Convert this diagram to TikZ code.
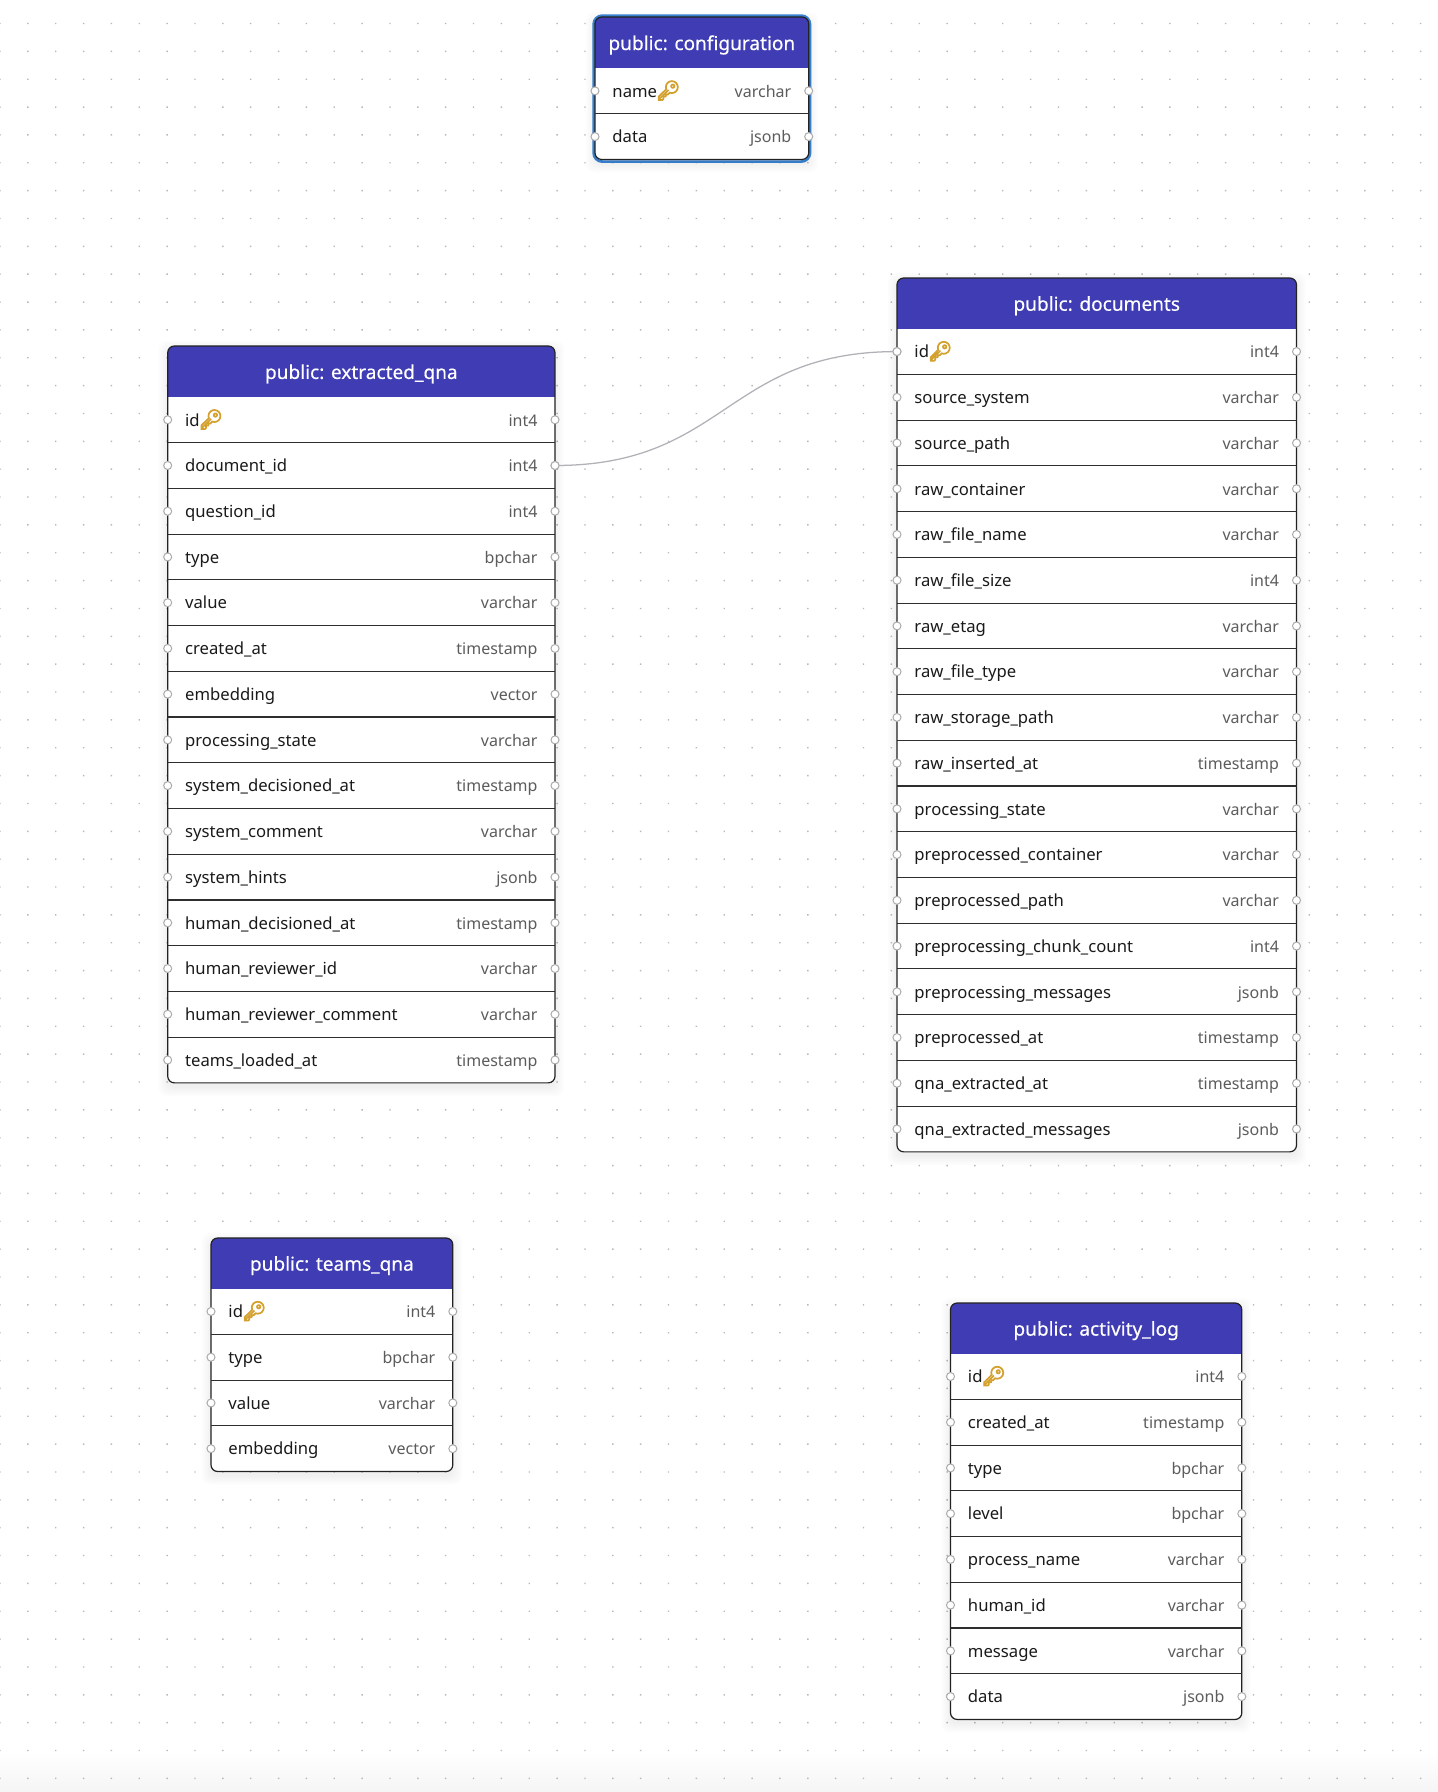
\documentclass[tikz,border=0pt]{standalone}
\usepackage{fontspec}
\setmainfont{Noto Sans}
\newfontfamily\emojifont[FakeBold=5]{Noto Emoji}
\newfontfamily\titlefont[FakeBold=0.35]{Noto Sans}
\definecolor{hdr}{HTML}{403DB4}
\definecolor{edgeln}{HTML}{222222}
\definecolor{sepln}{HTML}{2E2E2E}
\definecolor{handle}{HTML}{ABABAB}
\definecolor{conn}{HTML}{B1B1B7}
\definecolor{dotc}{HTML}{B9B9B9}
\definecolor{typec}{HTML}{5C5C5C}
\definecolor{namec}{HTML}{1A1A1A}
\definecolor{gold}{HTML}{D4A02E}
\definecolor{selblue}{HTML}{3B86D8}
\newcommand{\keyicon}{\hspace{-0.8pt}{\emojifont\fontsize{14.5}{15}\selectfont\textcolor{gold}{🔑}}}
\tikzset{
  titletext/.style={anchor=base,text=white,inner sep=0pt,font=\titlefont\fontsize{14.3}{16}\selectfont},
  nametext/.style={anchor=base west,text=namec,inner sep=0pt,font=\fontsize{12.5}{14}\selectfont},
  typetext/.style={anchor=base east,text=typec,inner sep=0pt,font=\fontsize{12}{14}\selectfont},
  porthandle/.style={circle,draw=handle,fill=white,line width=0.75pt,minimum size=6pt,inner sep=0pt},
  tablebox/.style={draw=edgeln,line width=0.9pt,rounded corners=5pt},
  sepline/.style={draw=sepln,line width=0.85pt},
  link/.style={draw=conn,line width=0.95pt}
}
% #1 id, #2 left, #3 right, #4 top, #5 header bottom, #6 row count, #7 title, #8 rows
\newcommand{\dbtable}[8]{
  \pgfmathsetmacro{\tbot}{#5+#6*45.73}
  \pgfmathsetmacro{\tmid}{(#2+#3)/2}
  \foreach \sh in {9,7,5,3,1}{
    \fill[black,opacity=0.011,rounded corners=6pt] (#2-\sh,#4+4-\sh) rectangle (#3+\sh,\tbot+4+\sh);
  }
  \fill[white,rounded corners=5pt] (#2,#4) rectangle (#3,\tbot);
  \begin{scope}
    \clip[rounded corners=5pt] (#2,#4) rectangle (#3,\tbot);
    \fill[hdr] (#2,#4) rectangle (#3,#5);
  \end{scope}
  \draw[tablebox] (#2,#4) rectangle (#3,\tbot);
  \node[titletext] (#1-title) at (\tmid,#5-18) {#7};
  \foreach \nm/\ty [count=\i] in {#8}{
    \pgfmathsetmacro{\yc}{#5+(\i-0.5)*45.73}
    \pgfmathsetmacro{\ys}{#5+\i*45.73}
    \ifnum\i<#6\relax \draw[sepline] (#2,\ys) -- (#3,\ys); \fi
    \node[nametext] (#1-n\i) at (#2+17.2,\yc+6.3) {\nm};
    \node[typetext] (#1-t\i) at (#3-17.2,\yc+6.3) {\ty};
    \node[porthandle] (#1-l\i) at (#2,\yc) {};
    \node[porthandle] (#1-r\i) at (#3,\yc) {};
  }
}
\begin{document}
\begin{tikzpicture}[x=0.75pt,y=-0.75pt]
\useasboundingbox (0,0) rectangle (1438,1792);
\fill[white] (0,0) rectangle (1438,1792);
\shade[top color=white,bottom color=black!4] (0,1752) rectangle (1438,1792);
\fill[dotc] foreach \ix in {0,...,51}{ foreach \iy in {0,...,63}{
  ({\ix*27.855-0.7},{23.5+\iy*27.855-0.7}) rectangle +(1.4,1.4) } };

\draw[selblue,line width=2pt,rounded corners=6.5pt] (593.6,15.6) rectangle (810,161.6);
\dbtable{cfg}{595}{808.7}{17}{68}{2}{public: configuration}{name\keyicon/varchar,data/jsonb}
\dbtable{qna}{167.7}{555}{346}{396.9}{15}{public: extracted\_qna}{id\keyicon/int4,document\_id/int4,question\_id/int4,type/bpchar,value/varchar,created\_at/timestamp,embedding/vector,processing\_state/varchar,system\_decisioned\_at/timestamp,system\_comment/varchar,system\_hints/jsonb,human\_decisioned\_at/timestamp,human\_reviewer\_id/varchar,human\_reviewer\_comment/varchar,teams\_loaded\_at/timestamp}
\dbtable{doc}{897}{1296.5}{278}{328.7}{18}{public: documents}{id\keyicon/int4,source\_system/varchar,source\_path/varchar,raw\_container/varchar,raw\_file\_name/varchar,raw\_file\_size/int4,raw\_etag/varchar,raw\_file\_type/varchar,raw\_storage\_path/varchar,raw\_inserted\_at/timestamp,processing\_state/varchar,preprocessed\_container/varchar,preprocessed\_path/varchar,preprocessing\_chunk\_count/int4,preprocessing\_messages/jsonb,preprocessed\_at/timestamp,qna\_extracted\_at/timestamp,qna\_extracted\_messages/jsonb}
\dbtable{tms}{211}{452.8}{1238}{1288.6}{4}{public: teams\_qna}{id\keyicon/int4,type/bpchar,value/varchar,embedding/vector}
\dbtable{act}{950.5}{1241.8}{1303}{1353.6}{8}{public: activity\_log}{id\keyicon/int4,created\_at/timestamp,type/bpchar,level/bpchar,process\_name/varchar,human\_id/varchar,message/varchar,data/jsonb}

\draw[link] (qna-r2.center) .. controls +(171,0) and +(-171,0) .. (doc-l1.center);
\node[porthandle] at (qna-r2) {};
\node[porthandle] at (doc-l1) {};
\end{tikzpicture}
\end{document}
